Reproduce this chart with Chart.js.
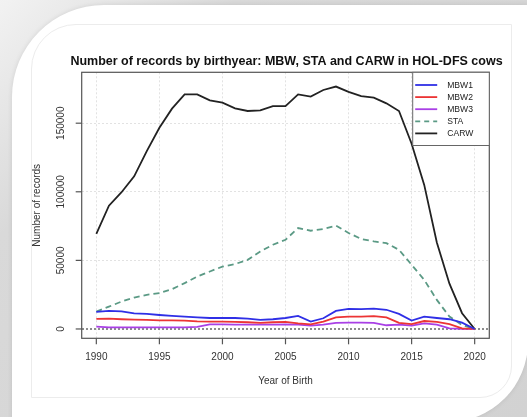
<!DOCTYPE html>
<html>
<head>
<meta charset="utf-8">
<script src="https://cdn.jsdelivr.net/npm/chart.js@4.4.1/dist/chart.umd.min.js"></script>
<style>
  html, body { margin: 0; padding: 0; }
  body {
    width: 527px; height: 417px; overflow: hidden; position: relative;
    background: linear-gradient(135deg, #f2f2f2 0%, #d9d9d9 25%, #d2d2d2 100%);
  }
  .card {
    position: absolute; left: 12px; top: 5px; width: 516px; height: 417px;
    background: #fff; border-radius: 92px 0 80px 0;
    box-shadow: 0 0 5px rgba(0,0,0,0.10);
  }
  .inner {
    position: absolute; left: 31px; top: 24px; width: 481px; height: 374px;
    border: 1px solid #ececec; border-radius: 45px 0 32px 0; box-sizing: border-box;
  }
  canvas { position: absolute; left: 0; top: 0; }
</style>
</head>
<body>
<div class="card"></div>
<div class="inner"></div>
<canvas id="chart" width="527" height="417"></canvas>
<script>
// birth years
const years = [1990, 1991, 1992, 1993, 1994, 1995, 1996, 1997, 1998, 1999, 2000,
  2001, 2002, 2003, 2004, 2005, 2006, 2007, 2008, 2009, 2010,
  2011, 2012, 2013, 2014, 2015, 2016, 2017, 2018, 2019, 2020];

// number of records per series
const mbw1 = [12400, 13200, 12900, 11400, 11000, 10200, 9500, 9000, 8500, 8000, 8000,
  8000, 7600, 6600, 7100, 8000, 9500, 5400, 7800, 13200, 14600,
  14400, 14900, 14000, 11000, 6100, 9000, 8000, 7100, 4600, 0];
const mbw2 = [7300, 7600, 7100, 6800, 6600, 6300, 6300, 6100, 5600, 5400, 5400,
  5100, 4900, 4400, 4900, 5100, 4100, 3400, 5400, 8500, 9000,
  9000, 9300, 8500, 4400, 3600, 5800, 5100, 3600, 500, 0];
const mbw3 = [1700, 1200, 1200, 1200, 1200, 1200, 1200, 1200, 1500, 3400, 3400,
  3200, 3200, 3200, 3200, 3400, 3200, 2400, 3200, 4400, 4600,
  4600, 4400, 2700, 3200, 2400, 4100, 3200, 500, 0, 0];
const sta = [12600, 16300, 20000, 22900, 24900, 26100, 29000, 33400, 38200, 41900, 45500,
  47300, 50400, 56500, 61400, 65000, 73600, 71600, 72900, 75300, 70000,
  65600, 63800, 62600, 57700, 46800, 35800, 21200, 9000, 2900, 0];
const carw = [69400, 89900, 99700, 111300, 129600, 146700, 160600, 171000, 171000, 166600, 165000,
  160800, 158900, 159400, 162500, 162500, 171000, 169400, 174200, 176700, 172800,
  169800, 168600, 164500, 158900, 135000, 105000, 63000, 33000, 11500, 0];

// axis ticks
const xTicks = [1990, 1995, 2000, 2005, 2010, 2015, 2020];
const yTicks = [0, 50000, 100000, 150000];
const yTickLabels = ['0', '50000', '100000', '150000'];

const FONT = '"Liberation Sans", Arial, Helvetica, sans-serif';

function pts(vals) {
  return years.map((yr, i) => ({ x: yr, y: vals[i] }));
}

function ds(label, vals, color, dash) {
  return {
    label: label,
    data: pts(vals),
    borderColor: color,
    borderWidth: 1.8,
    borderDash: dash || [],
    pointRadius: 0,
    tension: 0,
    fill: false
  };
}

// R style axes, titles and legend box
const rStyle = {
  id: 'rStyle',
  afterDraw(chart) {
    const { ctx, chartArea: a, scales } = chart;
    const x = scales.x, y = scales.y;
    ctx.save();

    ctx.strokeStyle = '#555';
    ctx.lineWidth = 1.2;
    ctx.strokeRect(a.left, a.top, a.right - a.left, a.bottom - a.top);

    ctx.fillStyle = '#333';
    ctx.font = '10px ' + FONT;
    ctx.textAlign = 'center';
    ctx.textBaseline = 'middle';
    xTicks.forEach(v => {
      const px = x.getPixelForValue(v);
      ctx.beginPath();
      ctx.moveTo(px, a.bottom);
      ctx.lineTo(px, a.bottom + 6);
      ctx.stroke();
      ctx.fillText(String(v), px, a.bottom + 18.5);
    });
    yTicks.forEach((v, i) => {
      const py = y.getPixelForValue(v);
      ctx.beginPath();
      ctx.moveTo(a.left - 6, py);
      ctx.lineTo(a.left, py);
      ctx.stroke();
      ctx.save();
      ctx.translate(a.left - 20, py);
      ctx.rotate(-Math.PI / 2);
      ctx.fillText(yTickLabels[i], 0, 0);
      ctx.restore();
    });

    // axis titles
    ctx.fillText('Year of Birth', (a.left + a.right) / 2, a.bottom + 43);
    ctx.save();
    ctx.translate(37, (a.top + a.bottom) / 2);
    ctx.rotate(-Math.PI / 2);
    ctx.fillText('Number of records', 0, 0);
    ctx.restore();

    // main title
    ctx.fillStyle = '#111';
    ctx.font = 'bold 12.5px ' + FONT;
    ctx.textBaseline = 'alphabetic';
    ctx.fillText('Number of records by birthyear: MBW, STA and CARW in HOL-DFS cows', 286.5, 65.3);

    // legend (topright, inside plot)
    const lx = 412.7, ly = a.top, lw = a.right - 412.7, lh = 73.2;
    ctx.fillStyle = '#fff';
    ctx.fillRect(lx, ly, lw, lh);
    ctx.strokeStyle = '#666';
    ctx.lineWidth = 1;
    ctx.strokeRect(lx, ly, lw, lh);
    ctx.font = '8.6px ' + FONT;
    ctx.textAlign = 'left';
    ctx.textBaseline = 'middle';
    chart.data.datasets.forEach((d, i) => {
      const ry = ly + 12.7 + i * 12.1;
      ctx.strokeStyle = d.borderColor;
      ctx.lineWidth = d.borderWidth;
      ctx.setLineDash(d.borderDash.length ? [5, 4] : []);
      ctx.beginPath();
      ctx.moveTo(lx + 2.5, ry);
      ctx.lineTo(lx + 24.5, ry);
      ctx.stroke();
      ctx.setLineDash([]);
      ctx.fillStyle = '#222';
      ctx.fillText(d.label, lx + 34.5, ry + 0.5);
    });
    ctx.restore();
  }
};

new Chart(document.getElementById('chart'), {
  type: 'line',
  data: {
    datasets: [
      ds('MBW1', mbw1, '#2f2fe6'),
      ds('MBW2', mbw2, '#ec3434'),
      ds('MBW3', mbw3, '#a940e6'),
      ds('STA', sta, '#5b9a85', [6, 4]),
      ds('CARW', carw, '#222222')
    ]
  },
  options: {
    responsive: false,
    animation: false,
    layout: { padding: { left: 81.7, right: 37.7, top: 72.3, bottom: 78.7 } },
    plugins: { legend: { display: false }, tooltip: { enabled: false } },
    scales: {
      x: {
        type: 'linear', min: 1988.84, max: 2021.16,
        afterBuildTicks: s => { s.ticks = xTicks.map(v => ({ value: v })); },
        ticks: { display: false },
        grid: { color: '#e2e2e2', lineWidth: 1, drawTicks: false },
        border: { display: false, dash: [2, 2] }
      },
      y: {
        type: 'linear', min: -6800, max: 187100,
        afterBuildTicks: s => { s.ticks = yTicks.map(v => ({ value: v })); },
        ticks: { display: false },
        grid: {
          color: c => (c.tick && c.tick.value === 0) ? '#8c8c8c' : '#e2e2e2',
          lineWidth: c => (c.tick && c.tick.value === 0) ? 2 : 1,
          drawTicks: false
        },
        border: { display: false, dash: [2, 2] }
      }
    }
  },
  plugins: [rStyle]
});
</script>
</body>
</html>
